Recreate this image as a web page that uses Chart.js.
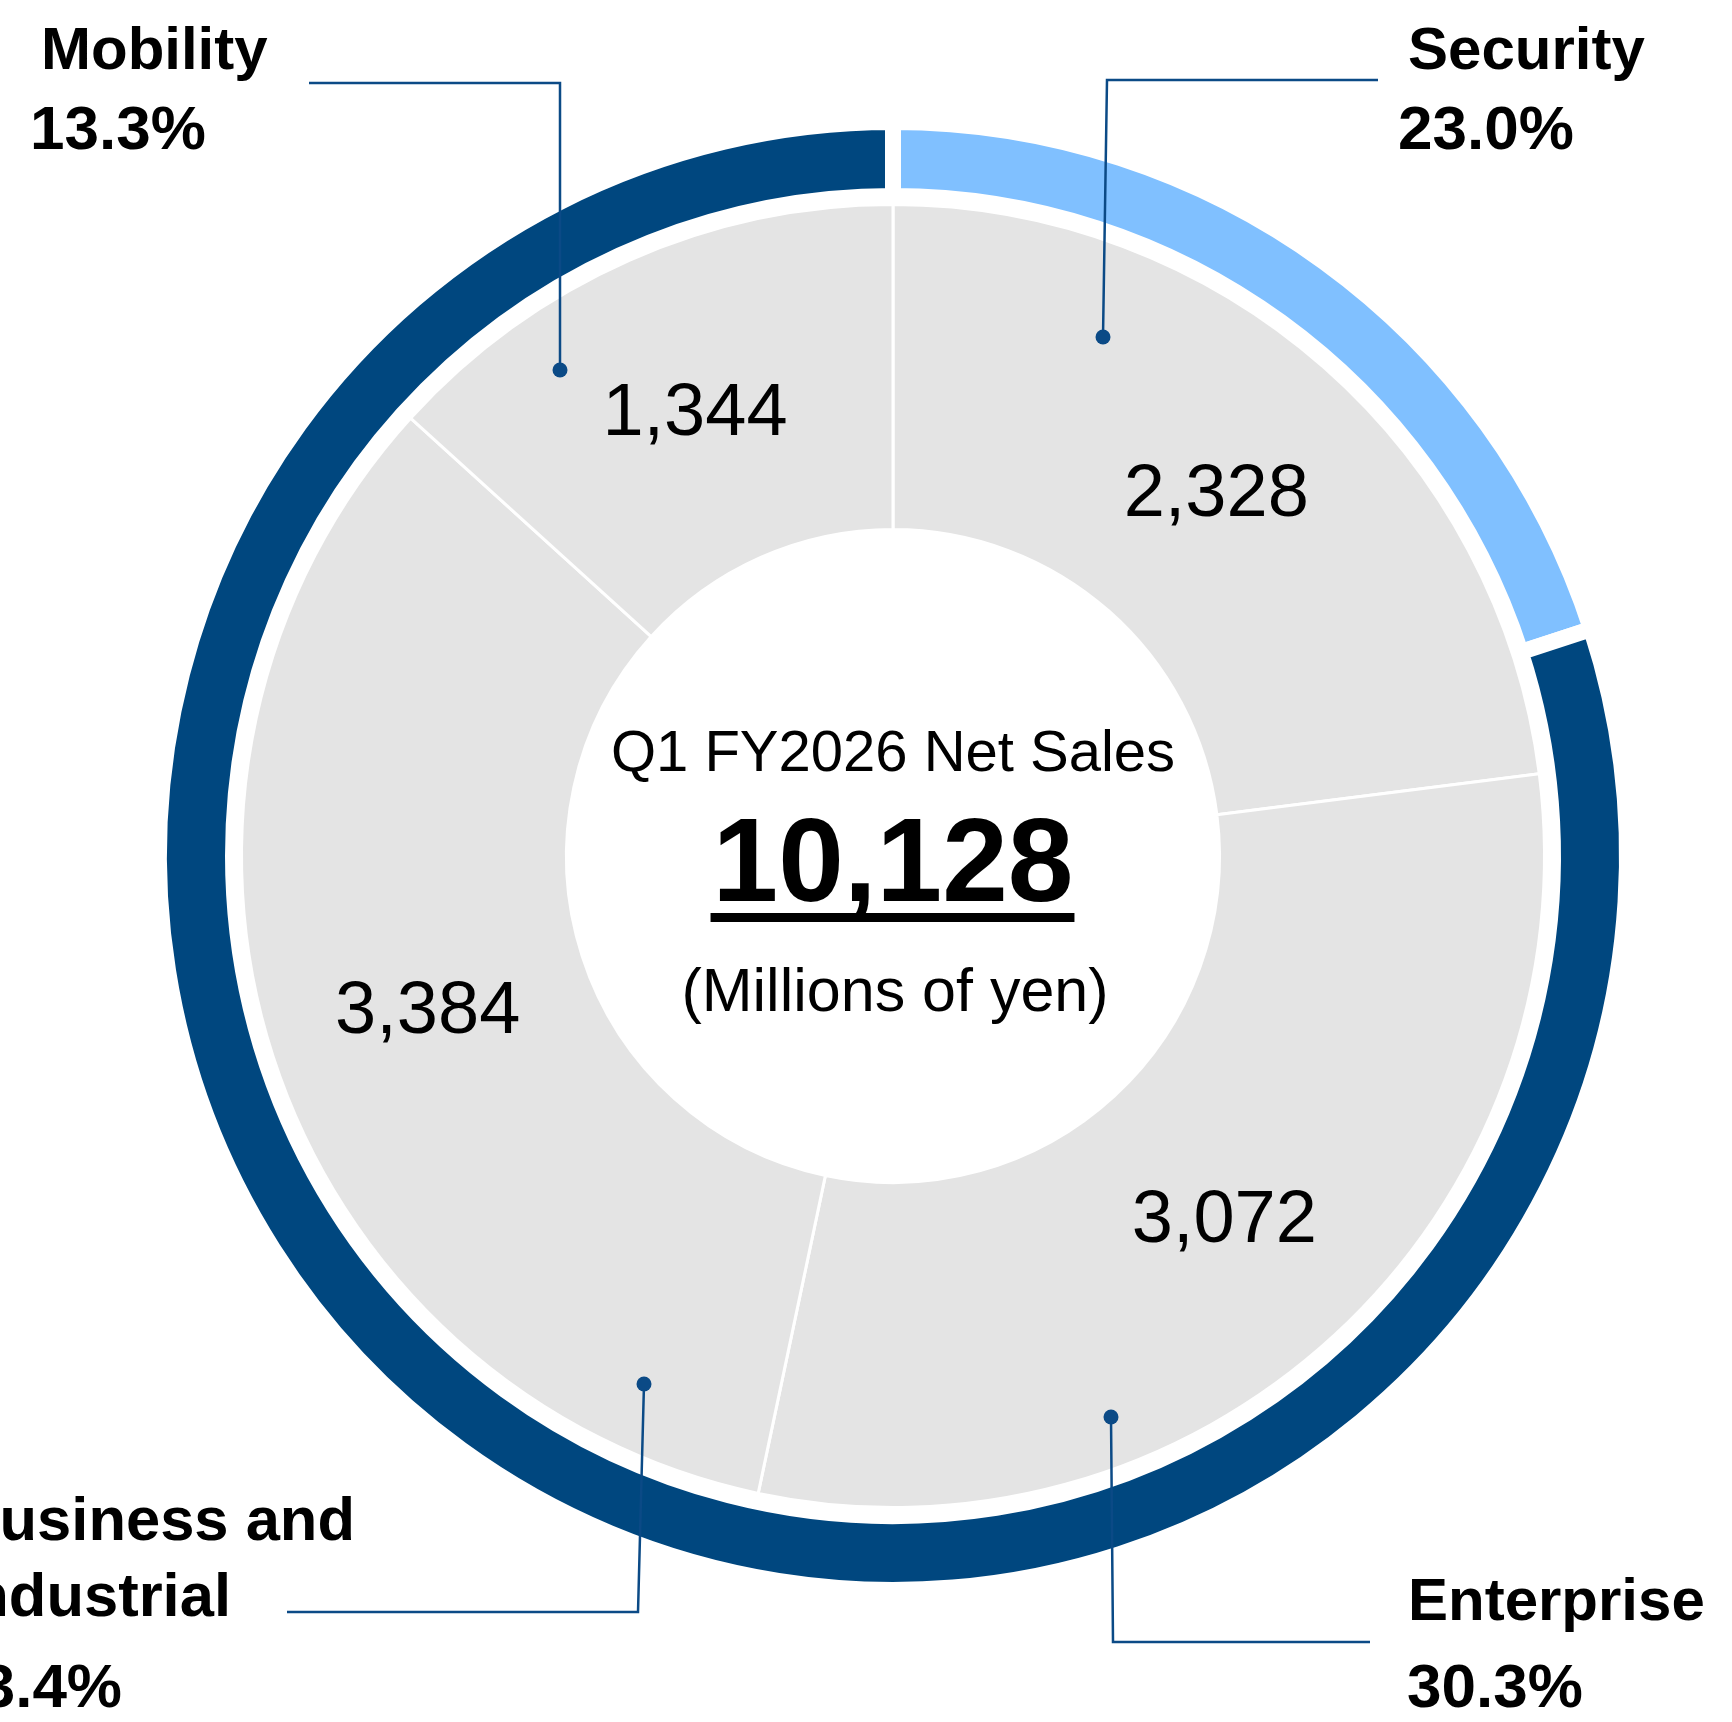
<!DOCTYPE html>
<html>
<head>
<meta charset="utf-8">
<script src="https://cdn.jsdelivr.net/npm/chart.js@4.4.1/dist/chart.umd.min.js"></script>
<style>
html, body { margin: 0; padding: 0; background: #ffffff; }
#wrap { width: 1732px; height: 1722px; position: relative; }
canvas { display: block; }
</style>
</head>
<body>
<div id="wrap"><canvas id="c" width="1732" height="1722"></canvas></div>
<script>
// ---------- data ----------
const categories = ['Security', 'Enterprise', 'Business and Industrial', 'Mobility'];
const categoryLines = [['Security'], ['Enterprise'], ['Business and', 'Industrial'], ['Mobility']];
const netSales = [2328, 3072, 3384, 1344];           // millions of yen
const shareLabels = ['23.0%', '30.3%', '33.4%', '13.3%'];
// outer accent ring as drawn in the picture (percent of circle): highlighted arc, remainder
const accentRingLabels = ['Security accent', 'Other'];
const accentRing = [20.0, 80.0];
const centerTitle = 'Q1 FY2026 Net Sales';
const centerUnit = '(Millions of yen)';

// ---------- derived ----------
const totalSales = netSales.reduce((a, b) => a + b, 0);

// ---------- styles / layout ----------
const DARK = '#00477F';
const LIGHT = '#80C0FF';
const GREY = '#E4E4E4';
const LINE = '#0B4A86';
const FONT = '"Liberation Sans", Arial, Helvetica, sans-serif';

// callout annotation layout (pixels)
const callouts = [
  { dot: [1103, 337], elbow: [1107, 80], end: [1378, 80], align: 'left', fs: 60,
    nameX: [1408], nameY: [69], pctX: 1398, pctY: 149 },
  { dot: [1111, 1417], elbow: [1113, 1642], end: [1370, 1642], align: 'left', fs: 60,
    nameX: [1408], nameY: [1620], pctX: 1407, pctY: 1707 },
  { dot: [644, 1384], elbow: [638, 1612], end: [287, 1612], align: 'right', fs: 61.5,
    nameX: [355, 231], nameY: [1540, 1616], pctX: 122, pctY: 1707 },
  { dot: [560, 370], elbow: [560, 83], end: [309, 83], align: 'left', fs: 60,
    nameX: [41], nameY: [69], pctX: 30, pctY: 149 }
];

const overlay = {
  id: 'overlay',
  afterDatasetsDraw(chart) {
    const ctx = chart.ctx;
    const meta = chart.getDatasetMeta(2);
    ctx.save();

    // value labels in the grey ring
    const vfs = 74;
    ctx.fillStyle = '#000';
    ctx.font = vfs + 'px ' + FONT;
    ctx.textAlign = 'center';
    ctx.textBaseline = 'alphabetic';
    let cx = 0, cy = 0;
    meta.data.forEach((arc, i) => {
      const p = arc.getProps(['x', 'y', 'startAngle', 'endAngle', 'innerRadius', 'outerRadius'], true);
      cx = p.x; cy = p.y;
      const a = (p.startAngle + p.endAngle) / 2;
      const r = (p.innerRadius + p.outerRadius) / 2;
      ctx.fillText(netSales[i].toLocaleString('en-US'), p.x + Math.cos(a) * r, p.y + Math.sin(a) * r + 0.358 * vfs);
    });

    // centre text
    ctx.font = '58px ' + FONT;
    ctx.fillText(centerTitle, cx, cy - 85);
    ctx.font = 'bold 118px ' + FONT;
    const totalTxt = totalSales.toLocaleString('en-US');
    ctx.fillText(totalTxt, cx, cy + 45);
    const tw = ctx.measureText(totalTxt).width;
    ctx.fillRect(cx - tw / 2 - 2, cy + 57, tw + 3, 9);
    ctx.font = '61px ' + FONT;
    ctx.fillText(centerUnit, cx + 2, cy + 155);

    // callouts
    callouts.forEach((c, i) => {
      ctx.strokeStyle = LINE;
      ctx.lineWidth = 2.5;
      ctx.beginPath();
      ctx.moveTo(c.dot[0], c.dot[1]);
      ctx.lineTo(c.elbow[0], c.elbow[1]);
      ctx.lineTo(c.end[0], c.end[1]);
      ctx.stroke();
      ctx.fillStyle = LINE;
      ctx.beginPath();
      ctx.arc(c.dot[0], c.dot[1], 7.5, 0, Math.PI * 2);
      ctx.fill();

      ctx.fillStyle = '#000';
      ctx.textAlign = c.align;
      ctx.font = 'bold ' + c.fs + 'px ' + FONT;
      categoryLines[i].forEach((ln, j) => ctx.fillText(ln, c.nameX[j], c.nameY[j]));
      ctx.font = 'bold 62px ' + FONT;
      ctx.fillText(shareLabels[i], c.pctX, c.pctY);
    });

    ctx.restore();
  }
};

new Chart(document.getElementById('c'), {
  type: 'doughnut',
  data: {
    labels: categories,
    datasets: [
      {
        label: 'Accent ring',
        data: accentRing,
        backgroundColor: [LIGHT, DARK],
        borderColor: '#ffffff',
        borderWidth: 16,
        weight: 74
      },
      {
        label: 'spacer',
        data: [1],
        backgroundColor: 'rgba(0,0,0,0)',
        borderWidth: 0,
        weight: 8.5
      },
      {
        label: 'Net sales',
        data: netSales,
        backgroundColor: GREY,
        borderColor: '#ffffff',
        borderWidth: 3,
        weight: 325
      }
    ]
  },
  options: {
    responsive: false,
    devicePixelRatio: 1,
    animation: false,
    events: [],
    radius: 734,
    cutout: '44.482%',
    layout: { padding: { left: 54, right: 0, top: 0, bottom: 10 } },
    plugins: {
      legend: { display: false },
      tooltip: { enabled: false }
    }
  },
  plugins: [overlay]
});
</script>
</body>
</html>
